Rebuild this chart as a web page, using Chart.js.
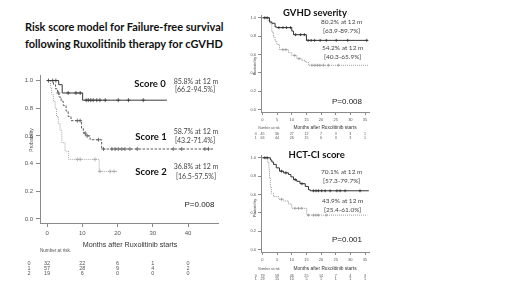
<!DOCTYPE html>
<html><head><meta charset="utf-8">
<script src="https://cdn.jsdelivr.net/npm/chart.js@4/dist/chart.umd.min.js"></script>
<style>
html,body{margin:0;padding:0;background:#fff;width:520px;height:292px;overflow:hidden;}
canvas{position:absolute;}
#title{position:absolute;left:25px;top:18px;font:bold 11px Lato;color:#111;line-height:17px;white-space:nowrap}
</style></head><body>
<div id="title">Risk score model for Failure-free survival<br>following Ruxolitinib therapy for cGVHD</div>
<canvas id="cA" width="235" height="232" style="left:0;top:60px"></canvas>
<canvas id="cB" width="160" height="145" style="left:230px;top:0"></canvas>
<canvas id="cC" width="160" height="147" style="left:230px;top:145px"></canvas>
<script>
// ---------- tick labels ----------
const mainXTicks = [0, 10, 20, 30, 40];
const smallXTicks = [0, 5, 10, 15, 20, 25, 30, 35];
const yTicks = [0, 0.2, 0.4, 0.6, 0.8, 1.0];

// ---------- Main chart: risk score ----------
const score0Time = [0, 3.3, 4.3, 10.1, 34];
const score0Surv = [1, 0.97, 0.91, 0.858, 0.858];
const score0Cens = [0.4, 1.6, 2.5, 6.0, 8.2, 9.4, 11.1, 11.7, 12.4, 13.1, 14.1, 15.0, 16.5, 20.2, 23.1, 27.3];

const score1Time = [0, 1.8, 2.4, 3.0, 3.4, 4.0, 4.6, 5.4, 6.0, 6.8, 9.8, 10.3, 11.0, 12.2, 15.5, 47.2];
const score1Surv = [1, 0.97, 0.94, 0.91, 0.88, 0.85, 0.82, 0.78, 0.74, 0.71, 0.655, 0.62, 0.60, 0.572, 0.505, 0.505];
const score1Cens = [3.2, 8.6, 9.4, 10.8, 11.4, 14.6, 16.0, 18.4, 19.3, 20.2, 21.2, 22.1, 23.5, 25.6, 35.8, 38.2, 44.8, 45.8];

const score2Time = [0, 1.0, 1.3, 1.8, 2.3, 2.7, 3.2, 3.7, 4.2, 5.1, 6.1, 14.8, 19.9];
const score2Surv = [1, 0.95, 0.90, 0.85, 0.80, 0.74, 0.69, 0.64, 0.55, 0.49, 0.43, 0.343, 0.343];
const score2Cens = [8.6, 9.4, 13.6, 15.0, 17.9, 19.0];

const riskScoreLabels = ['0', '1', '2'];
const riskScore0 = [32, 22, 6, 1, 0];
const riskScore1 = [57, 28, 9, 4, 2];
const riskScore2 = [19, 6, 0, 0, 0];

// ---------- GVHD severity ----------
const gvhdATime = [0, 2.4, 3.2, 4.3, 4.9, 10.0, 10.6, 15.0, 36.1];
const gvhdASurv = [1, 0.955, 0.94, 0.90, 0.893, 0.855, 0.816, 0.754, 0.754];
const gvhdACens = [0.8, 1.6, 5.6, 7.0, 8.2, 9.6, 11.3, 13.0, 14.3, 15.6, 16.6, 17.8, 19.7, 21.8, 25.2, 29.1, 35.6];
const gvhdBTime = [0, 2.0, 2.6, 3.2, 3.75, 4.3, 4.9, 5.8, 8.9, 10.0, 11.7, 13.4, 14.6, 15.7, 36.3];
const gvhdBSurv = [1, 0.97, 0.935, 0.844, 0.79, 0.746, 0.71, 0.653, 0.62, 0.59, 0.555, 0.537, 0.518, 0.483, 0.483];
const gvhdBCens = [7.0, 8.0, 11.0, 12.5, 16.9, 17.9, 18.8, 19.6, 20.8, 22.5, 25.9];
const riskGvhdLabels = ['0', '1'];
const riskGvhd0 = [45, 36, 27, 12, 7, 3, 3, 1];
const riskGvhd1 = [63, 44, 26, 15, 6, 3, 3, 1];

// ---------- HCT-CI score ----------
const hctATime = [0, 2.7, 3.2, 3.75, 4.7, 5.8, 7.2, 8.9, 9.7, 10.6, 11.7, 12.8, 14.6, 15.7, 16.3, 36.3];
const hctASurv = [1, 0.976, 0.954, 0.928, 0.89, 0.854, 0.836, 0.818, 0.792, 0.762, 0.744, 0.718, 0.688, 0.652, 0.641, 0.641];
const hctACens = [0.8, 1.6, 6.5, 8.0, 11.2, 13.5, 17.4, 18.3, 19.1, 20.2, 21.4, 23.1, 25.4, 26.5, 28.2, 33.3];
const hctBTime = [0, 1.8, 2.2, 2.4, 2.7, 3.0, 3.75, 5.5, 7.2, 8.9, 10.0, 15.1, 35.8];
const hctBSurv = [1, 0.947, 0.873, 0.78, 0.69, 0.615, 0.578, 0.549, 0.530, 0.497, 0.45, 0.376, 0.376];
const hctBCens = [6.5, 11.1, 12.3, 13.4, 15.7, 17.4, 18.3, 19.1, 21.8];
const riskHctLabels = ['0', '1'];
const riskHct0 = [79, 59, 46, 25, 14, 7, 4, 3];
const riskHct1 = [29, 15, 10, 5, 1, 1, 1, 1];

// ---------- helpers ----------
function survAt(times, surv, t) {
  let v = surv[0];
  for (let i = 0; i < times.length; i++) if (times[i] <= t) v = surv[i];
  return v;
}
const axisCol = '#8a8a8a';
const textPlugin = {
  id: 'kmText',
  afterDraw(chart, args, opts) {
    const ctx = chart.ctx, xs = chart.scales.x;
    ctx.save();
    (opts.items || []).forEach(it => {
      ctx.font = it.font; ctx.fillStyle = it.color || '#333';
      ctx.textAlign = it.align || 'center'; ctx.textBaseline = 'middle';
      if (it.rot) { ctx.save(); ctx.translate(it.x, it.y); ctx.rotate(it.rot); ctx.fillText(it.text, 0, 0); ctx.restore(); }
      else ctx.fillText(it.text, it.x, it.y);
    });
    const r = opts.risk;
    if (r) {
      ctx.font = r.font; ctx.fillStyle = r.color; ctx.textBaseline = 'middle'; ctx.textAlign = 'center';
      r.rows.forEach((row, ri) => {
        const y = r.y0 + ri * r.dy;
        ctx.fillText(r.labels[ri], r.labelX, y);
        row.forEach((v, ci) => ctx.fillText(String(v), xs.getPixelForValue(r.ticks[ci]), y));
      });
    }
    ctx.restore();
  }
};

function makeChart(id, o) {
  const datasets = [];
  o.curves.forEach(c => {
    datasets.push({ data: c.t.map((t, i) => ({ x: t, y: c.s[i] })), stepped: true, borderColor: c.color,
      borderWidth: c.w, borderDash: c.dash, pointRadius: 0, fill: false });
    datasets.push({ data: c.c.map(t => ({ x: t, y: survAt(c.t, c.s, t) })), showLine: false, pointStyle: 'cross',
      pointRadius: c.cr, borderColor: c.color, borderWidth: 0.8, backgroundColor: c.color });
  });
  const tickFont = { size: o.tf, family: 'Liberation Sans' };
  return new Chart(document.getElementById(id), {
    type: 'line',
    data: { datasets },
    options: {
      responsive: false, animation: false, devicePixelRatio: 1,
      layout: { padding: o.pad },
      plugins: { legend: { display: false }, tooltip: { enabled: false }, kmText: { items: o.items, risk: o.risk } },
      scales: {
        x: { type: 'linear', min: o.xmin, max: o.xmax,
          afterFit: s => { s.height = o.xh; },
          afterBuildTicks: s => { s.ticks = o.xticks.map(v => ({ value: v })); },
          grid: { drawOnChartArea: false, tickLength: o.tl, color: axisCol },
          border: { color: axisCol, width: 1 },
          ticks: { font: tickFont, color: '#555', padding: o.tp, maxRotation: 0, autoSkip: false } },
        y: { type: 'linear', min: o.ymin, max: o.ymax,
          afterFit: s => { s.width = o.yw; },
          afterBuildTicks: s => { s.ticks = yTicks.map(v => ({ value: v })); },
          grid: { drawOnChartArea: false, tickLength: o.tl, color: axisCol },
          border: { color: axisCol, width: 1 },
          ticks: { font: tickFont, color: '#555', padding: o.tp, autoSkip: false, callback: v => v.toFixed(1) } }
      }
    },
    plugins: [textPlugin]
  });
}

const lato = (w, s) => `${w} ${s}px Lato`;
const lib = s => `${s}px "Liberation Sans"`;

// Main chart
makeChart('cA', {
  pad: { top: 15, right: 17, left: 0, bottom: 0 }, yw: 40, xh: 69,
  xmin: -2, xmax: 48.5, ymin: -0.03, ymax: 1.04, xticks: mainXTicks, tf: 6, tl: 4, tp: 3,
  curves: [
    { t: score0Time, s: score0Surv, c: score0Cens, color: '#3a3a3a', w: 1, dash: [], cr: 2 },
    { t: score1Time, s: score1Surv, c: score1Cens, color: '#5a5a5a', w: 1, dash: [2.5, 1.5], cr: 2 },
    { t: score2Time, s: score2Surv, c: score2Cens, color: '#a5a5a5', w: 1, dash: [1, 1], cr: 2 }
  ],
  items: [
    { text: 'Score 0', x: 150, y: 24, font: lato('bold', 9.5), color: '#111' },
    { text: '85.8% at 12 m', x: 196, y: 22, font: lato('normal', 7), color: '#444' },
    { text: '[66.2-94.5%]', x: 195, y: 30, font: lato('normal', 7), color: '#444' },
    { text: 'Score 1', x: 151, y: 77, font: lato('bold', 9.5), color: '#111' },
    { text: '58.7% at 12 m', x: 196, y: 72, font: lato('normal', 7), color: '#444' },
    { text: '[43.2-71.4%]', x: 195, y: 81, font: lato('normal', 7), color: '#444' },
    { text: 'Score 2', x: 151, y: 112, font: lato('bold', 9.5), color: '#111' },
    { text: '36.8% at 12 m', x: 196, y: 107, font: lato('normal', 7), color: '#444' },
    { text: '[16.5-57.5%]', x: 196, y: 117, font: lato('normal', 7), color: '#444' },
    { text: 'P=0.008', x: 199.5, y: 145, font: lib(8), color: '#222' },
    { text: 'Probability', x: 32, y: 80, font: lib(5), color: '#555', rot: -Math.PI / 2 },
    { text: 'Months after Ruxolitinib starts', x: 130, y: 185, font: lib(7.2), color: '#333' },
    { text: 'Number at risk.', x: 40, y: 191, font: lib(4.6), color: '#555', align: 'left' }
  ],
  risk: { rows: [riskScore0, riskScore1, riskScore2], labels: riskScoreLabels, ticks: mainXTicks,
    y0: 203, dy: 5.3, labelX: 29, font: lib(5.5), color: '#555' }
});

// GVHD severity
makeChart('cB', {
  pad: { top: 15, right: 20.6, left: 0, bottom: 0 }, yw: 31, xh: 33,
  xmin: -0.5, xmax: 36.5, ymin: -0.025, ymax: 1.03, xticks: smallXTicks, tf: 4, tl: 3, tp: 2,
  curves: [
    { t: gvhdATime, s: gvhdASurv, c: gvhdACens, color: '#333', w: 1, dash: [], cr: 1.5 },
    { t: gvhdBTime, s: gvhdBSurv, c: gvhdBCens, color: '#999', w: 1, dash: [1, 1], cr: 1.5 }
  ],
  items: [
    { text: 'GVHD severity', x: 85, y: 13, font: lato('bold', 9.5), color: '#111' },
    { text: '80.2% at 12 m', x: 111.7, y: 22, font: lato('normal', 6.5), color: '#444' },
    { text: '[63.9-89.7%]', x: 111.7, y: 30.5, font: lato('normal', 6.5), color: '#444' },
    { text: '54.2% at 12 m', x: 112.7, y: 48.3, font: lato('normal', 6.5), color: '#444' },
    { text: '[40.3-65.9%]', x: 112.7, y: 57.3, font: lato('normal', 6.5), color: '#444' },
    { text: 'P=0.008', x: 117, y: 101.5, font: lib(8), color: '#222' },
    { text: 'Probability', x: 25, y: 66, font: lib(4), color: '#555', rot: -Math.PI / 2 },
    { text: 'Months after Ruxolitinib starts', x: 95, y: 127.3, font: lib(4.8), color: '#333' },
    { text: 'Number at risk', x: 39, y: 128.3, font: lib(3.3), color: '#555' }
  ],
  risk: { rows: [riskGvhd0, riskGvhd1], labels: riskGvhdLabels, ticks: smallXTicks,
    y0: 134.3, dy: 3.5, labelX: 25.7, font: lib(3.6), color: '#555' }
});

// HCT-CI score
makeChart('cC', {
  pad: { top: 10, right: 20.6, left: 0, bottom: 0 }, yw: 31, xh: 40,
  xmin: -0.5, xmax: 36.5, ymin: -0.025, ymax: 1.03, xticks: smallXTicks, tf: 4, tl: 3, tp: 2,
  curves: [
    { t: hctATime, s: hctASurv, c: hctACens, color: '#333', w: 1, dash: [], cr: 1.5 },
    { t: hctBTime, s: hctBSurv, c: hctBCens, color: '#999', w: 1, dash: [1, 1], cr: 1.5 }
  ],
  items: [
    { text: 'HCT-CI score', x: 86.7, y: 10, font: lato('bold', 9.5), color: '#111' },
    { text: '70.1% at 12 m', x: 111.7, y: 27.3, font: lato('normal', 6.5), color: '#444' },
    { text: '[57.3-79.7%]', x: 111.7, y: 35.7, font: lato('normal', 6.5), color: '#444' },
    { text: '43.9% at 12 m', x: 112.7, y: 56, font: lato('normal', 6.5), color: '#444' },
    { text: '[25.4-61.0%]', x: 112.7, y: 65, font: lato('normal', 6.5), color: '#444' },
    { text: 'P=0.001', x: 117, y: 94.3, font: lib(8), color: '#222' },
    { text: 'Probability', x: 25, y: 63, font: lib(4), color: '#555', rot: -Math.PI / 2 },
    { text: 'Months after Ruxolitinib starts', x: 95, y: 123.3, font: lib(4.8), color: '#333' },
    { text: 'Number at risk', x: 39, y: 124, font: lib(3.3), color: '#555' }
  ],
  risk: { rows: [riskHct0, riskHct1], labels: riskHctLabels, ticks: smallXTicks,
    y0: 131, dy: 3.4, labelX: 25.7, font: lib(3.7), color: '#555' }
});
</script>
</body></html>
